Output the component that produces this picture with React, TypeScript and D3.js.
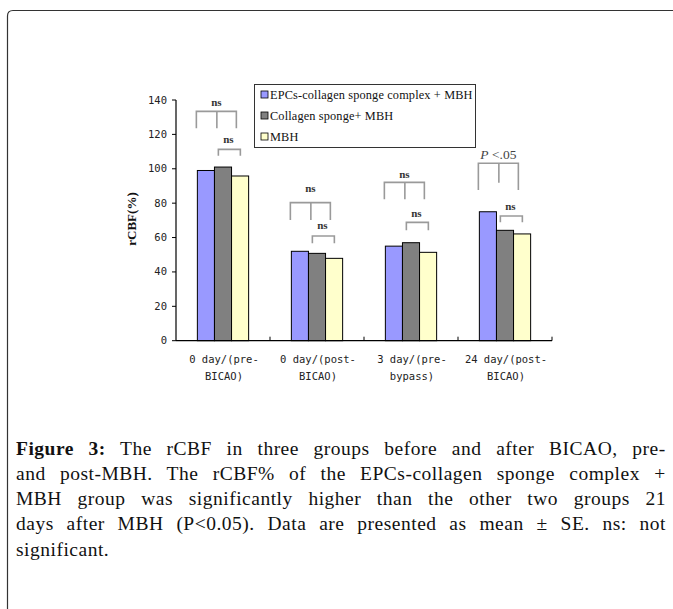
import React from "react";
import * as d3 from "d3";

const categories = ["0 day/(pre-BICAO)", "0 day/(post-BICAO)", "3 day/(pre-bypass)", "24 day/(post-BICAO)"];
const categoryLines = [
  ["0 day/(pre-", "BICAO)"],
  ["0 day/(post-", "BICAO)"],
  ["3 day/(pre-", "bypass)"],
  ["24 day/(post-", "BICAO)"],
];
const seriesNames = ["EPCs-collagen sponge complex + MBH", "Collagen sponge+ MBH", "MBH"];
const epcsValues = [99, 52, 55, 75];
const collagenValues = [101, 50.8, 57, 64.2];
const mbhValues = [95.8, 47.9, 51.4, 62.1];
const yTicks = [0, 20, 40, 60, 80, 100, 120, 140];

// significance annotations (in data units)
const bigLabels = ["ns", "ns", "ns", "P <.05"];
const bigTop = [133.4, 80.3, 92.1, 103.2];
const bigBottom = [123.6, 70.2, 82.3, 87.7];
const bigMidBottom = [123.6, 70.2, 82.3, 91.9];
const bigLabelY = [136.5, 86.5, 94.5, 105.5];
const smallLabels = ["ns", "ns", "ns", "ns"];
const smallTop = [111.3, 60.9, 68.8, 72.5];
const smallBottom = [107.6, 56.7, 64.2, 68.9];
const smallLabelY = [115, 64.8, 71.8, 76];

const captionBold = "Figure 3:";
const captionLines = [
  " The rCBF in three groups before and after BICAO, pre-",
  "and post-MBH. The rCBF% of the EPCs-collagen sponge complex +",
  "MBH group was significantly higher than the other two groups 21",
  "days after MBH (P<0.05). Data are presented as mean ± SE. ns: not",
  "significant.",
];

const colors = ["#9999FF", "#808080", "#FFFFCC"];

let _ctx: CanvasRenderingContext2D | null = null;
function measure(text: string, font: string): number {
  if (!_ctx) _ctx = document.createElement("canvas").getContext("2d");
  if (!_ctx) return text.length * 8;
  _ctx.font = font;
  return _ctx.measureText(text).width;
}

export default function App() {
  const W = 673, H = 609;
  const plotLeft = 176, plotRight = 552, plotTop = 100, plotBottom = 340.7;
  const x0 = d3.scaleBand<string>().domain(categories).range([plotLeft, plotRight]).padding(0);
  const x1 = d3.scaleBand<number>().domain([0, 1, 2]).range([0, x0.bandwidth()]).paddingInner(0).paddingOuter(1.25);
  const y = d3.scaleLinear().domain([0, 140]).range([plotBottom, plotTop]);
  const series = [epcsValues, collagenValues, mbhValues];
  const bw = x1.bandwidth();
  const mono = "'DejaVu Sans Mono', monospace";
  const serif = "'Liberation Serif', 'Times New Roman', serif";
  const bracketColor = "#9a9a9a";

  const capSize = 19.5;
  const capLS = 0.5;
  const capX = 16, capW = 650;

  return (
    <svg width={W} height={H} style={{ position: "absolute", left: 0, top: 0, background: "#fff" }}>
      <rect x={0} y={0} width={W} height={H} fill="#fff" />
      {/* outer frame */}
      <path d={`M7.5,${H + 5} L7.5,16 Q7.5,10.5 13,10.5 L${W + 5},10.5`} fill="none" stroke="#333" strokeWidth={1.2} />

      {/* bars */}
      {categories.map((c, ci) => (
        <g key={c} transform={`translate(${x0(c)},0)`}>
          {series.map((vals, si) => (
            <rect key={si} x={x1(si)} y={y(vals[ci])} width={bw} height={y(0) - y(vals[ci])}
              fill={colors[si]} stroke="#000" strokeWidth={1} />
          ))}
        </g>
      ))}

      {/* axes */}
      <line x1={plotLeft} x2={plotLeft} y1={plotTop} y2={plotBottom} stroke="#000" strokeWidth={1.2} />
      <line x1={plotLeft} x2={plotRight} y1={plotBottom} y2={plotBottom} stroke="#000" strokeWidth={1.2} />
      {yTicks.map((t) => (
        <g key={t}>
          <line x1={plotLeft - 4} x2={plotLeft} y1={y(t)} y2={y(t)} stroke="#000" />
          <text x={plotLeft - 9} y={y(t) + 3.5} textAnchor="end" fontFamily={mono} fontSize={10.5} fill="#222">{t}</text>
        </g>
      ))}
      {categories.map((c) => (
        <line key={c} x1={(x0(c) as number) + x0.bandwidth()} x2={(x0(c) as number) + x0.bandwidth()}
          y1={plotBottom - 4} y2={plotBottom} stroke="#000" />
      ))}
      {categories.map((c, ci) => (
        <text key={c} textAnchor="middle" fontFamily={mono} fontSize={10.5} fill="#222">
          {categoryLines[ci].map((l, li) => (
            <tspan key={li} x={(x0(c) as number) + x0.bandwidth() / 2 + 1} y={363 + li * 17}>{l}</tspan>
          ))}
        </text>
      ))}
      <text transform={`translate(136,219) rotate(-90)`} textAnchor="middle" fontFamily={serif} fontWeight="bold" fontSize={13} fill="#111">rCBF(%)</text>

      {/* significance brackets */}
      {categories.map((c, ci) => {
        const gL = (x0(c) as number) + (x1(0) as number);
        const l = gL - 1, m = gL + 19.5, r = gL + 39;
        const sl = gL + 21, sr = gL + 43;
        const isP = bigLabels[ci] !== "ns";
        return (
          <g key={c}>
            <path d={`M${l},${y(bigBottom[ci])} L${l},${y(bigTop[ci])} L${r},${y(bigTop[ci])} L${r},${y(bigBottom[ci])} M${m},${y(bigTop[ci])} L${m},${y(bigMidBottom[ci])}`}
              fill="none" stroke={bracketColor} strokeWidth={1.6} />
            <path d={`M${sl},${y(smallBottom[ci])} L${sl},${y(smallTop[ci])} L${sr},${y(smallTop[ci])} L${sr},${y(smallBottom[ci])}`}
              fill="none" stroke={bracketColor} strokeWidth={1.6} />
            {isP ? (
              <text x={(l + r) / 2} y={y(bigLabelY[ci])} textAnchor="middle" fontFamily={serif} fontSize={13.5} fill="#444">
                <tspan fontStyle="italic">P</tspan> {bigLabels[ci].slice(2)}
              </text>
            ) : (
              <text x={(l + r) / 2} y={y(bigLabelY[ci])} textAnchor="middle" fontFamily={serif} fontWeight="bold" fontSize={11} fill="#333">{bigLabels[ci]}</text>
            )}
            <text x={(sl + sr) / 2 - 1} y={y(smallLabelY[ci])} textAnchor="middle" fontFamily={serif} fontWeight="bold" fontSize={11} fill="#333">{smallLabels[ci]}</text>
          </g>
        );
      })}

      {/* legend */}
      <rect x={254.5} y={84.5} width={221} height={63} fill="#fff" stroke="#333" strokeWidth={1} />
      {seriesNames.map((n, i) => (
        <g key={n}>
          <rect x={261} y={91 + i * 21} width={7} height={7} fill={colors[i]} stroke="#000" strokeWidth={0.8} />
          <text x={270} y={99 + i * 21} fontFamily={serif} fontSize={12.3} fill="#111" letterSpacing={0.15}>{n}</text>
        </g>
      ))}

      {/* caption */}
      {captionLines.map((line, i) => {
        const justify = i < captionLines.length - 1;
        const boldPart = i === 0 ? captionBold : "";
        const full = boldPart + line;
        const natural =
          (boldPart ? measure(boldPart, `bold ${capSize}px 'Liberation Serif'`) : 0) +
          measure(line, `${capSize}px 'Liberation Serif'`) +
          full.length * capLS;
        const spaces = (full.match(/ /g) || []).length;
        const ws = justify && spaces > 0 ? Math.max(0, (capW - natural) / spaces) : 0;
        return (
          <text key={i} x={capX} y={454.5 + i * 25.3} fontFamily={serif} fontSize={capSize} fill="#111"
            letterSpacing={capLS} wordSpacing={ws}>
            {boldPart ? <tspan fontWeight="bold">{boldPart}</tspan> : null}
            {line}
          </text>
        );
      })}
    </svg>
  );
}
